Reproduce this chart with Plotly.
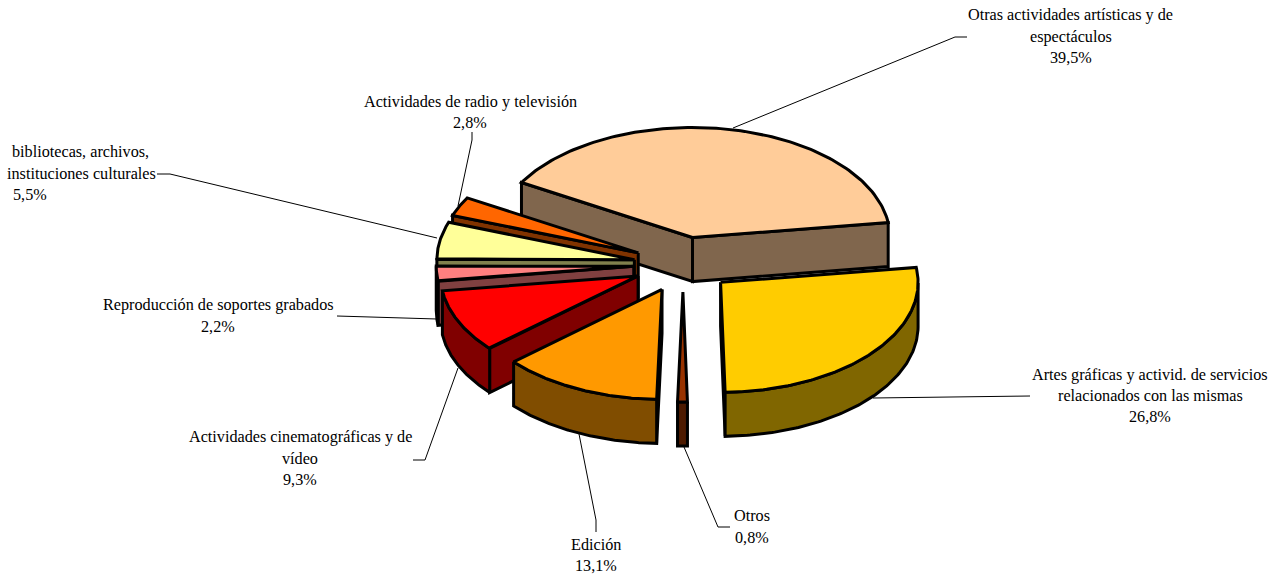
import numpy as np
import plotly.graph_objects as go

# Data
categories = ["Otras actividades artísticas y de espectáculos",
              "Artes gráficas y activid. de servicios relacionados con las mismas",
              "Otros", "Edición", "Actividades cinematográficas y de vídeo",
              "Reproducción de soportes grabados",
              "bibliotecas, archivos, instituciones culturales",
              "Actividades de radio y televisión"]
values = [39.5, 26.8, 0.8, 13.1, 9.3, 2.2, 5.5, 2.8]
top_colors = ["#FFCC99", "#FFCC00", "#993300", "#FF9900", "#FF0000", "#FF8080", "#FFFF99", "#FF6600"]
side_colors = ["#80664D", "#806600", "#4D1A00", "#804D00", "#800000", "#804040", "#80804D", "#803300"]
paint_order = [0, 7, 6, 5, 4, 1, 2, 3]

# Text of the labels, one entry per line: (text, x centre, y centre)
label_lines = [
    ("Otras actividades artísticas y de", 1070, 15), ("espectáculos", 1071, 37), ("39,5%", 1071, 58),
    ("Artes gráficas y activid. de servicios", 1150, 375), ("relacionados con las mismas", 1150, 396), ("26,8%", 1150, 417),
    ("Otros", 752, 516), ("0,8%", 752, 538),
    ("Edición", 596, 545), ("13,1%", 596, 566),
    ("Actividades cinematográficas y de", 300, 437), ("vídeo", 300, 459), ("9,3%", 300, 480),
    ("Reproducción de soportes grabados", 218, 305), ("2,2%", 218, 327),
    ("bibliotecas, archivos,", 80, 152), ("instituciones culturales", 81, 174), ("5,5%", 30, 195),
    ("Actividades de radio y televisión", 470, 102), ("2,8%", 470, 123),
]

# Leader lines
leaders = [
    ([733, 955, 967], [128, 37, 37]),
    ([873, 1018, 1030], [398, 396, 396]),
    ([684, 718, 730], [447, 527, 527]),
    ([579, 596, 596], [434, 520, 532]),
    ([458, 425, 413], [368, 460, 460]),
    ([437, 349, 337], [319, 316, 316]),
    ([437, 170, 157], [238, 174, 174]),
    ([458, 472, 472], [206, 140, 132]),
]

# Pie geometry
CX, CY, RX, RY, DEPTH, EXPLODE, START = 683.0, 264.5, 197.5, 110.0, 44.0, 0.25, 150.0

fig = go.Figure()


def poly(xs, ys, fill):
    fig.add_trace(go.Scatter(x=xs, y=ys, mode="lines", fill="toself", fillcolor=fill,
                             line=dict(color="black", width=3), hoverinfo="skip", showlegend=False))


for lx, ly in leaders:
    fig.add_trace(go.Scatter(x=lx, y=ly, mode="lines", line=dict(color="black", width=1),
                             hoverinfo="skip", showlegend=False))

spans = np.array(values) / sum(values) * 360.0
starts = START - np.concatenate([[0], np.cumsum(spans)[:-1]])

for i in paint_order:
    a, b = starts[i], starts[i] - spans[i]
    mid = np.radians((a + b) / 2)
    ax = CX + EXPLODE * RX * np.cos(mid)
    ay = CY - EXPLODE * RY * np.sin(mid)
    t = np.radians(np.linspace(a, b, 120))
    ex = ax + RX * np.cos(t)
    ey = ay - RY * np.sin(t)
    # radial walls facing the viewer
    for ang, normal in ((a, a + 90), (b, b - 90)):
        if np.sin(np.radians(normal)) < 0:
            r = np.radians(ang)
            px, py = ax + RX * np.cos(r), ay - RY * np.sin(r)
            poly([ax, px, px, ax, ax], [ay, py, py + DEPTH, ay + DEPTH, ay], side_colors[i])
    # outer rim, lower half only
    low = np.sin(t) <= 0
    if low.sum() > 1:
        rx_, ry_ = ex[low], ey[low]
        poly(list(rx_) + list(rx_[::-1]) + [rx_[0]],
             list(ry_) + list(ry_[::-1] + DEPTH) + [ry_[0]], side_colors[i])
    # top face
    poly([ax] + list(ex) + [ax], [ay] + list(ey) + [ay], top_colors[i])

for text, x, y in label_lines:
    fig.add_annotation(x=x, y=y, text=text, showarrow=False, xanchor="center", yanchor="middle",
                       font=dict(family="Liberation Serif", size=16.2, color="black"))

fig.update_layout(width=1279, height=577, margin=dict(l=0, r=0, t=0, b=0),
                  paper_bgcolor="white", plot_bgcolor="white", showlegend=False,
                  xaxis=dict(range=[0, 1279], visible=False, fixedrange=True),
                  yaxis=dict(range=[577, 0], visible=False, fixedrange=True))
fig.write_html("out.html", config={"displayModeBar": False},
               post_script="document.body.style.margin='0';")
